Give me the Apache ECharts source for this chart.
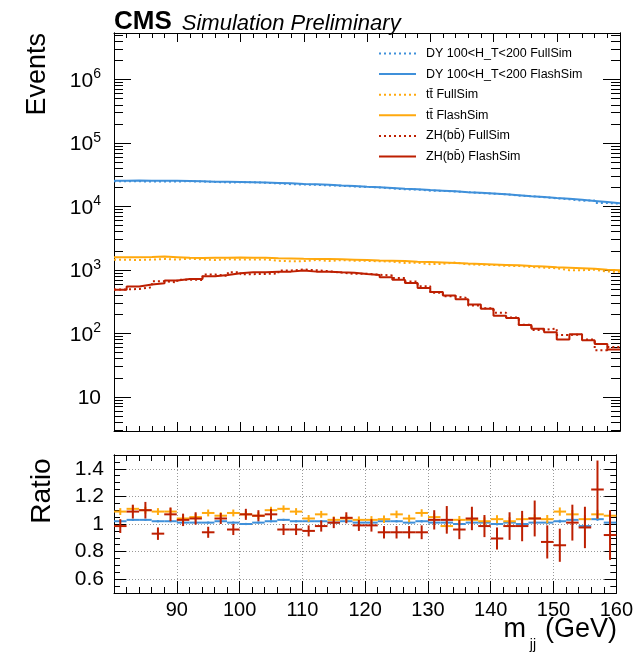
<!DOCTYPE html>
<html>
<head>
<meta charset="utf-8" />
<title>mjj FlashSim vs FullSim</title>
<script src="https://cdn.jsdelivr.net/npm/echarts@6/dist/echarts.min.js"></script>
<style>
  html, body { margin: 0; padding: 0; background: #fff; }
  #main { width: 636px; height: 652px; }
</style>
</head>
<body>
<div id="main"></div>
<script>
// bin low edges (GeV), 2 GeV bins from 80 to 160
var binLow = [80, 82, 84, 86, 88, 90, 92, 94, 96, 98, 100, 102, 104, 106, 108, 110, 112, 114, 116, 118,
              120, 122, 124, 126, 128, 130, 132, 134, 136, 138, 140, 142, 144, 146, 148, 150, 152, 154, 156, 158];
var binWidth = 2;

// FlashSim histograms (events per bin)
var dyFlash = [25500, 25600, 25400, 25300, 25300, 25100, 24900, 24600, 24400, 24200, 24000, 23800, 23500, 23100, 22600, 22300, 21900, 21400, 21000, 20500,
               20100, 19600, 19000, 18600, 18100, 17700, 17300, 16800, 16400, 16000, 15500, 15000, 14500, 14100, 13600, 13200, 12700, 12200, 11700, 11200];
var ttFlash = [1580, 1590, 1600, 1620, 1590, 1560, 1540, 1550, 1560, 1570, 1560, 1550, 1530, 1520, 1500, 1490, 1480, 1470, 1450, 1430,
               1410, 1400, 1380, 1350, 1330, 1310, 1290, 1260, 1240, 1220, 1200, 1180, 1150, 1130, 1100, 1080, 1060, 1040, 1010, 990];
var zhFlash = [485, 546, 587, 616, 679, 722, 722, 794, 834, 885, 917, 917, 940, 940, 975, 940, 940, 917, 905, 865,
               830, 770, 700, 620, 520, 450, 395, 345, 285, 245, 190, 175, 135, 118, 104, 80, 97, 78, 68, 56];

// ratio FlashSim / FullSim and its uncertainty
var dyRatio = [1.02, 1.03, 1.03, 1.02, 1.02, 1.01, 1.01, 1.01, 1.02, 1.01, 1.00, 1.01, 1.02, 1.03, 1.02, 1.02, 1.02, 1.01, 1.02, 1.01,
               1.01, 1.02, 1.02, 1.01, 1.02, 1.01, 1.01, 1.00, 1.01, 1.01, 1.00, 1.01, 1.00, 1.01, 1.01, 1.02, 1.03, 0.985, 1.035, 1.01];
var dyErr = [0.008, 0.008, 0.008, 0.008, 0.008, 0.008, 0.008, 0.008, 0.008, 0.008, 0.008, 0.008, 0.008, 0.008, 0.008, 0.008, 0.008, 0.008, 0.008, 0.008,
             0.009, 0.009, 0.009, 0.009, 0.009, 0.009, 0.009, 0.01, 0.01, 0.01, 0.01, 0.01, 0.01, 0.01, 0.011, 0.011, 0.011, 0.012, 0.012, 0.012];
var ttRatio = [1.09, 1.11, 1.10, 1.09, 1.09, 1.04, 1.05, 1.08, 1.06, 1.08, 1.07, 1.06, 1.10, 1.11, 1.09, 1.04, 1.07, 1.03, 1.04, 1.03,
               1.03, 1.035, 1.07, 1.04, 1.08, 1.05, 0.985, 1.03, 1.03, 1.02, 1.035, 1.02, 1.035, 1.04, 1.035, 1.09, 1.07, 1.035, 1.07, 1.06];
var ttErr = [0.025, 0.025, 0.025, 0.025, 0.025, 0.025, 0.025, 0.025, 0.025, 0.025, 0.025, 0.025, 0.025, 0.025, 0.025, 0.025, 0.025, 0.025, 0.025, 0.025,
             0.027, 0.027, 0.027, 0.027, 0.027, 0.027, 0.028, 0.028, 0.028, 0.028, 0.029, 0.029, 0.029, 0.03, 0.03, 0.03, 0.031, 0.031, 0.032, 0.032];
var zhRatio = [0.985, 1.09, 1.10, 0.93, 1.07, 1.03, 1.04, 0.94, 1.04, 0.96, 1.07, 1.06, 1.07, 0.96, 0.96, 0.95, 0.985, 1.01, 1.045, 0.99,
               0.99, 0.94, 0.94, 0.94, 0.94, 1.03, 1.03, 0.96, 1.04, 0.985, 0.895, 0.985, 0.985, 1.04, 0.87, 0.846, 1.01, 0.975, 1.25, 0.92];
var zhErr = [0.05, 0.05, 0.06, 0.045, 0.05, 0.045, 0.045, 0.04, 0.04, 0.04, 0.04, 0.04, 0.04, 0.04, 0.04, 0.04, 0.04, 0.04, 0.04, 0.04,
             0.045, 0.045, 0.045, 0.045, 0.05, 0.07, 0.1, 0.07, 0.085, 0.08, 0.08, 0.1, 0.11, 0.13, 0.12, 0.12, 0.13, 0.15, 0.21, 0.18];

var names = ['DY 100<H_T<200 FullSim', 'DY 100<H_T<200 FlashSim',
             'tt\u0304 FullSim', 'tt\u0304 FlashSim',
             'ZH(bb\u0304) FullSim', 'ZH(bb\u0304) FlashSim'];
var colors = ['#3f90da', '#ffa90e', '#bd1f01'];
var FONT = 'Liberation Sans';

// FullSim = FlashSim / ratio
function fullFrom(flash, ratio) {
  return flash.map(function (v, i) { return v / ratio[i]; });
}
// histogram as a step line through bin low edges, closed at the last upper edge
function stepData(vals) {
  var d = binLow.map(function (x, i) { return [x, vals[i]]; });
  d.push([binLow[binLow.length - 1] + binWidth, vals[vals.length - 1]]);
  return d;
}
function crossData(ratio, err) {
  return binLow.map(function (x, i) { return [x, x + binWidth, ratio[i], err[i]]; });
}
function crossItem(params, api) {
  var lo = api.value(0), hi = api.value(1), r = api.value(2), e = api.value(3);
  var c = (lo + hi) / 2;
  var a = api.coord([lo, r]), b = api.coord([hi, r]);
  var u = api.coord([c, r + e]), w = api.coord([c, r - e]);
  var st = { stroke: api.visual('color'), lineWidth: 2 };
  return {
    type: 'group',
    children: [
      { type: 'line', shape: { x1: a[0], y1: a[1], x2: b[0], y2: b[1] }, style: st },
      { type: 'line', shape: { x1: u[0], y1: u[1], x2: w[0], y2: w[1] }, style: st }
    ]
  };
}

var majorLog = [10, 100, 1e3, 1e4, 1e5, 1e6];
var minorLog = [];
[1, 10, 100, 1e3, 1e4, 1e5, 1e6].forEach(function (p) {
  for (var k = 2; k <= 9; k++) minorLog.push(k * p);
});
var ratioMajor = [0.6, 0.8, 1, 1.2, 1.4];

var black = { color: '#000', width: 1 };

function xAx(grid, pos, labels, tickLen, minorLen, split) {
  return {
    gridIndex: grid, type: 'value', position: pos, min: 80, max: 160, interval: 10,
    axisLine: { show: true, onZero: false, lineStyle: black },
    axisTick: { show: true, inside: true, length: tickLen, lineStyle: black },
    minorTick: { show: true, splitNumber: 5, length: minorLen, lineStyle: black },
    axisLabel: { show: labels, showMinLabel: false, color: '#000', fontSize: 20, fontFamily: FONT, margin: 7 },
    splitLine: { show: split, lineStyle: { color: '#999', type: [1, 2], width: 1 } }
  };
}
function logAx(pos, major, withLabel) {
  return {
    gridIndex: 0, type: 'log', position: pos, min: 2.9, max: 5.4e6,
    axisLine: { show: true, lineStyle: black },
    axisTick: { show: true, inside: true, length: major ? 17 : 9, lineStyle: black,
                customValues: major ? majorLog : minorLog },
    axisLabel: {
      show: withLabel, customValues: majorLog, margin: 13,
      formatter: function (v) {
        var n = Math.round(Math.log10(v));
        return n === 1 ? '{b|10}' : '{b|10}{s|' + n + '}';
      },
      rich: {
        b: { fontSize: 21, fontFamily: FONT, color: '#000', lineHeight: 24, verticalAlign: 'bottom' },
        s: { fontSize: 14, fontFamily: FONT, color: '#000', lineHeight: 24, verticalAlign: 'top' }
      }
    },
    splitLine: { show: false }
  };
}
function ratioAx(pos, major, withLabel) {
  var ax = {
    gridIndex: 1, type: 'value', position: pos, min: 0.5, max: 1.5,
    axisLine: { show: true, lineStyle: black },
    axisTick: { show: true, inside: true, length: major ? 12 : 6, lineStyle: black },
    axisLabel: { show: withLabel, color: '#000', fontSize: 21, fontFamily: FONT, margin: 10 },
    splitLine: { show: false }
  };
  if (major) {
    ax.axisTick.customValues = ratioMajor;
    ax.axisLabel.customValues = ratioMajor;
    if (withLabel) ax.splitLine = { show: true, lineStyle: { color: '#999', type: [1, 2], width: 1 } };
  } else {
    ax.interval = 0.05;
  }
  return ax;
}

var series = [];
[[dyFlash, dyRatio], [ttFlash, ttRatio], [zhFlash, zhRatio]].forEach(function (s, k) {
  series.push({
    name: names[2 * k], type: 'line', step: 'end', xAxisIndex: 0, yAxisIndex: 0,
    symbol: 'none', data: stepData(fullFrom(s[0], s[1])),
    lineStyle: { color: colors[k], width: 2, type: [2, 3] }, itemStyle: { color: colors[k] }
  });
  series.push({
    name: names[2 * k + 1], type: 'line', step: 'end', xAxisIndex: 0, yAxisIndex: 0,
    symbol: 'none', data: stepData(s[0]),
    lineStyle: { color: colors[k], width: 2 }, itemStyle: { color: colors[k] }
  });
});
[[dyRatio, dyErr], [ttRatio, ttErr], [zhRatio, zhErr]].forEach(function (s, k) {
  series.push({
    name: 'ratio' + k, type: 'custom', xAxisIndex: 2, yAxisIndex: 4, clip: true,
    renderItem: crossItem, encode: { x: [0, 1], y: [2] },
    itemStyle: { color: colors[k] }, data: crossData(s[0], s[1])
  });
});

var chart = echarts.init(document.getElementById('main'), null, { renderer: 'canvas' });
chart.setOption({
  animation: false,
  backgroundColor: '#fff',
  title: {
    left: 109, top: 4,
    text: '{a|CMS}  {b|Simulation Preliminary}',
    textStyle: {
      fontWeight: 'normal',
      rich: {
        a: { fontSize: 26, fontWeight: 'bold', fontFamily: FONT, color: '#000', lineHeight: 26, verticalAlign: 'bottom' },
        b: { fontSize: 22, fontWeight: 'normal', fontStyle: 'italic', fontFamily: FONT, color: '#000', lineHeight: 26, verticalAlign: 'bottom' }
      }
    }
  },
  legend: {
    data: names, orient: 'vertical', left: 373, top: 42,
    itemWidth: 37, itemHeight: 14, itemGap: 7.6,
    itemStyle: { opacity: 0 },
    textStyle: { fontSize: 12.5, fontFamily: FONT, color: '#000', padding: [0, 0, 0, 5] },
    selectedMode: false
  },
  grid: [
    { left: 114, right: 16, top: 33, bottom: 221 },
    { left: 114, right: 16, top: 455, bottom: 59 }
  ],
  xAxis: [
    xAx(0, 'bottom', false, 9, 5, false),
    xAx(0, 'top', false, 9, 5, false),
    xAx(1, 'bottom', true, 12, 6, true),
    xAx(1, 'top', false, 12, 6, false)
  ],
  yAxis: [
    logAx('left', true, true),
    logAx('left', false, false),
    logAx('right', true, false),
    logAx('right', false, false),
    ratioAx('left', true, true),
    ratioAx('left', false, false),
    ratioAx('right', true, false),
    ratioAx('right', false, false)
  ],
  graphic: [
    { type: 'text', x: 38, y: 33, rotation: Math.PI / 2,
      style: { text: 'Events', font: '27px "Liberation Sans"', fill: '#000', align: 'right', verticalAlign: 'middle' } },
    { type: 'text', x: 42, y: 491, rotation: Math.PI / 2,
      style: { text: 'Ratio', font: '28px "Liberation Sans"', fill: '#000', align: 'center', verticalAlign: 'middle' } },
    { type: 'text', x: 617, y: 643,
      style: { text: '(GeV)', font: '27px "Liberation Sans"', fill: '#000', align: 'right', verticalAlign: 'bottom' } },
    { type: 'text', x: 536, y: 652,
      style: { text: 'jj', font: '14px "Liberation Sans"', fill: '#000', align: 'right', verticalAlign: 'bottom' } },
    { type: 'text', x: 526, y: 643,
      style: { text: 'm', font: '27px "Liberation Sans"', fill: '#000', align: 'right', verticalAlign: 'bottom' } }
  ],
  series: series
});
</script>
</body>
</html>
